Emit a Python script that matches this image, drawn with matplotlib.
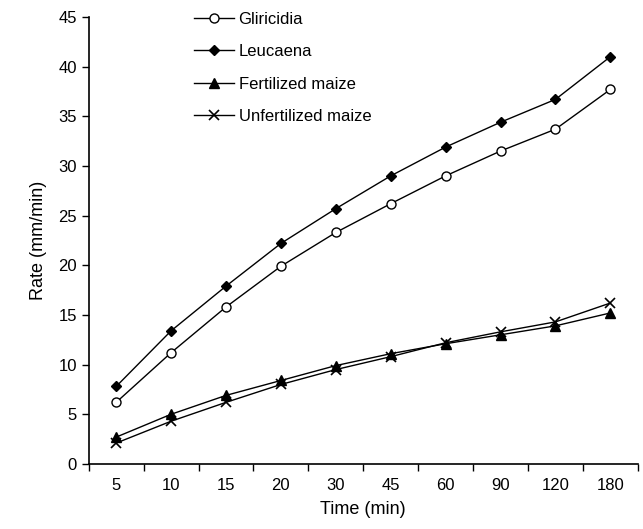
import matplotlib
matplotlib.use("Agg")
import matplotlib.pyplot as plt
import numpy as np

plt.rcParams['font.family'] = ['Liberation Sans', 'DejaVu Sans']

times = ["5", "10", "15", "20", "30", "45", "60", "90", "120", "180"]
gliricidia = [6.2, 11.2, 15.8, 19.9, 23.3, 26.2, 29.0, 31.5, 33.7, 37.7]
leucaena = [7.8, 13.4, 17.9, 22.2, 25.7, 29.0, 31.9, 34.4, 36.7, 41.0]
fertilized = [2.7, 5.0, 6.9, 8.4, 9.9, 11.1, 12.1, 13.0, 13.9, 15.2]
unfertilized = [2.1, 4.3, 6.2, 8.0, 9.5, 10.8, 12.2, 13.3, 14.3, 16.2]

fig = plt.figure(figsize=(6.43, 5.29), dpi=100)
ax = fig.add_axes([0.138, 0.123, 0.854, 0.845])
x = np.arange(len(times))

ax.plot(x, gliricidia, '-o', color='black', lw=1, ms=6.5, mfc='white', mec='black', mew=1, label='Gliricidia')
ax.plot(x, leucaena, '-D', color='black', lw=1, ms=5.5, label='Leucaena')
ax.plot(x, fertilized, '-^', color='black', lw=1, ms=6.5, label='Fertilized maize')
ax.plot(x, unfertilized, '-x', color='black', lw=1, ms=7.5, mew=1.2, label='Unfertilized maize')

ax.set_xlim(-0.5, len(times) - 0.5)
ax.set_ylim(0, 45)
ax.set_yticks(np.arange(0, 46, 5))
ax.set_xticks(x)
ax.set_xticklabels(times)
ax.set_xticks(np.arange(-0.5, len(times)), minor=True)
ax.tick_params(axis='x', which='major', length=0, labelsize=12, pad=10)
ax.tick_params(axis='x', which='minor', length=5, width=1, direction='out')
ax.tick_params(axis='y', length=5, width=1, labelsize=12)
for s in ['top', 'right']:
    ax.spines[s].set_visible(False)
for s in ['left', 'bottom']:
    ax.spines[s].set_linewidth(1.2)

ax.set_xlabel('Time (min)', fontsize=13, labelpad=6)
ax.set_ylabel('Rate (mm/min)', fontsize=13, labelpad=8)

ax.legend(loc='upper left', bbox_to_anchor=(0.165, 1.045), frameon=False, fontsize=12,
          handlelength=2.4, handletextpad=0.25, labelspacing=1.05)

fig.savefig('out.png', dpi=100)
